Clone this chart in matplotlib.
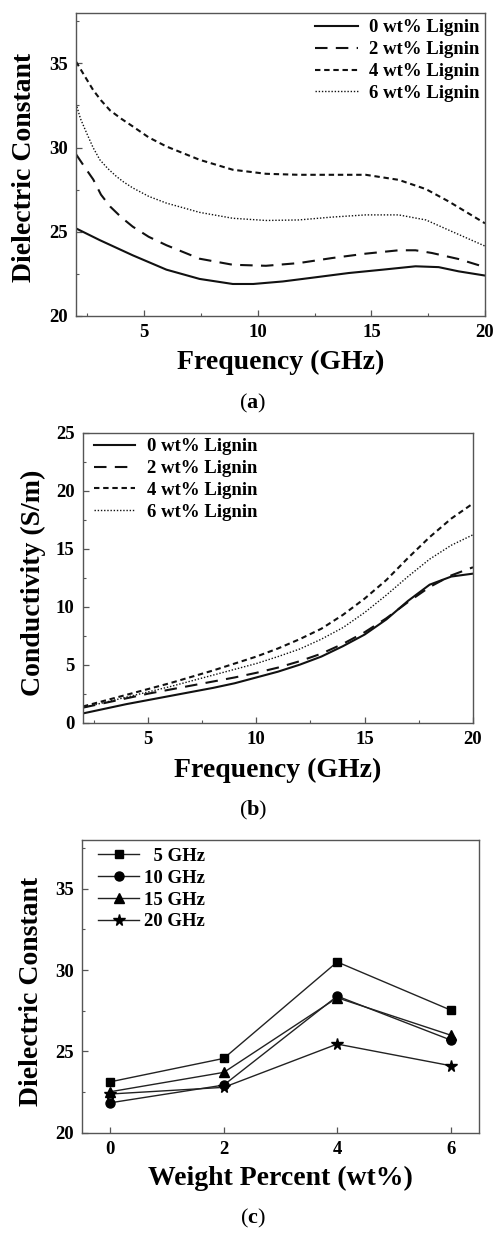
import matplotlib
matplotlib.use("Agg")
import matplotlib.pyplot as plt
from matplotlib.ticker import MultipleLocator

plt.rcParams['font.family'] = ['Liberation Serif', 'DejaVu Serif']
plt.rcParams['font.weight'] = 'bold'
plt.rcParams['mathtext.fontset'] = 'custom'
plt.rcParams['mathtext.rm'] = 'Liberation Serif'
plt.rcParams['mathtext.bf'] = 'Liberation Serif:bold'

# ---------------- data ----------------
labels_lignin = ["0 wt% Lignin", "2 wt% Lignin", "4 wt% Lignin", "6 wt% Lignin"]

# (a) dielectric constant vs frequency
freq_a0 = [2.0, 3.05, 4.5, 5.98, 7.44, 8.9, 9.8, 11.1, 12.56, 14.0, 15.5, 16.94, 17.96, 18.84, 20.0]
diel_a0 = [25.2, 24.5, 23.6, 22.75, 22.2, 21.9, 21.9, 22.05, 22.3, 22.55, 22.75, 22.95, 22.9, 22.65, 22.4]
freq_a2 = [2.0, 2.4, 2.76, 3.1, 3.5, 4.0, 4.5, 5.2, 5.98, 7.44, 8.9, 10.36, 11.8, 13.27, 14.75, 16.2, 16.94, 17.66, 18.84, 20.0]
diel_a2 = [29.6, 28.8, 28.1, 27.2, 26.5, 25.85, 25.3, 24.7, 24.2, 23.4, 23.04, 22.98, 23.14, 23.44, 23.7, 23.9, 23.9, 23.74, 23.38, 22.9]
freq_a4 = [2.0, 2.4, 2.76, 3.1, 3.5, 4.0, 4.5, 5.2, 5.98, 7.44, 8.9, 10.36, 11.8, 13.27, 14.75, 16.2, 17.4, 18.4, 20.0]
diel_a4 = [35.1, 34.2, 33.4, 32.8, 32.2, 31.7, 31.25, 30.6, 30.06, 29.27, 28.68, 28.44, 28.38, 28.38, 28.38, 28.08, 27.53, 26.8, 25.5]
freq_a6 = [2.0, 2.2, 2.47, 2.75, 3.05, 3.4, 3.78, 4.1, 4.5, 5.2, 5.98, 7.44, 8.9, 10.36, 11.8, 13.27, 14.75, 16.2, 17.4, 18.4, 20.0]
diel_a6 = [32.6, 31.7, 30.85, 30.0, 29.27, 28.75, 28.28, 27.95, 27.6, 27.1, 26.7, 26.15, 25.8, 25.67, 25.7, 25.87, 26.0, 26.0, 25.7, 25.1, 24.15]

# (b) conductivity vs frequency
freq_b = [2, 3, 4, 5, 6, 7, 8, 9, 10, 11, 12, 13, 14, 15, 16, 17, 18, 19, 20]
cond_b0 = [0.8, 1.2, 1.6, 1.95, 2.3, 2.65, 3.0, 3.4, 3.9, 4.4, 5.0, 5.7, 6.6, 7.6, 8.9, 10.5, 11.9, 12.6, 12.85]
cond_b2 = [1.3, 1.7, 2.1, 2.5, 2.85, 3.2, 3.55, 3.9, 4.3, 4.75, 5.3, 5.95, 6.8, 7.8, 9.0, 10.4, 11.7, 12.7, 13.4]
cond_b4 = [1.4, 1.9, 2.4, 2.9, 3.4, 3.95, 4.5, 5.1, 5.7, 6.4, 7.2, 8.1, 9.3, 10.7, 12.3, 14.2, 16.0, 17.6, 18.9]
cond_b6 = [1.3, 1.75, 2.2, 2.65, 3.1, 3.6, 4.1, 4.6, 5.1, 5.7, 6.35, 7.2, 8.2, 9.5, 11.0, 12.6, 14.1, 15.3, 16.2]

# (c) dielectric constant vs weight percent
wt = [0, 2, 4, 6]
labels_freq = ["  5 GHz", "10 GHz", "15 GHz", "20 GHz"]
diel_5 = [23.13, 24.57, 30.5, 27.54]
diel_10 = [21.84, 22.93, 28.4, 25.7]
diel_15 = [22.52, 23.71, 28.3, 26.0]
diel_20 = [22.38, 22.79, 25.45, 24.12]

# ---------------- figure ----------------
W, H = 495, 1236
fig = plt.figure(figsize=(W / 100, H / 100), dpi=100)


def px_axes(l, t, r, b):
    return fig.add_axes([l / W, 1 - b / H, (r - l) / W, (b - t) / H])


spine_col = '#555555'
tick_fs = 13.5
lab_fs = 20
leg_fs = 13.5


def style(ax):
    for s in ax.spines.values():
        s.set_color(spine_col)
        s.set_linewidth(1.0)
    ax.tick_params(which='both', direction='in', colors=spine_col, labelcolor='black',
                   labelsize=tick_fs, top=False, right=False)
    ax.tick_params(which='major', length=4, width=0.9, pad=6)
    ax.tick_params(which='minor', length=2.5, width=0.8)
    for t in ax.get_xticklabels() + ax.get_yticklabels():
        t.set_fontweight('bold')


styles = [
    dict(linestyle='-', lw=1.5),
    dict(linestyle=(0, (6, 4)), lw=1.5),
    dict(linestyle=(0, (2.6, 1.8)), lw=1.5),
    dict(linestyle=(0, (1, 1.3)), lw=1.0),
]

leg_kw = dict(frameon=False, labelspacing=0.25, borderpad=0, borderaxespad=0,
              prop={'weight': 'bold', 'size': leg_fs})

# ----- (a) -----
ax1 = px_axes(76, 12.7, 485, 316)
for (x, y), st, lab in zip([(freq_a0, diel_a0), (freq_a2, diel_a2), (freq_a4, diel_a4), (freq_a6, diel_a6)],
                           styles, labels_lignin):
    ax1.plot(x, y, color='#111111', label=lab, **st)
ax1.set_xlim(2, 20)
ax1.set_ylim(20, 38)
ax1.xaxis.set_major_locator(MultipleLocator(5))
ax1.xaxis.set_minor_locator(MultipleLocator(2.5))
ax1.yaxis.set_major_locator(MultipleLocator(5))
ax1.yaxis.set_minor_locator(MultipleLocator(2.5))
style(ax1)
ax1.set_xlabel("Frequency (GHz)", fontsize=lab_fs, fontweight='bold')
ax1.set_ylabel("Dielectric Constant", fontsize=lab_fs, fontweight='bold')
ax1.xaxis.set_label_coords(0.5, -0.152)
ax1.yaxis.set_label_coords(-0.125, 0.49)
ax1.xaxis.label.set_va('center')
ax1.yaxis.label.set_va('center')
ax1.legend(loc='upper left', bbox_to_anchor=(0.584, 0.978),
           handlelength=2.3, handletextpad=0.6, **leg_kw)
fig.text(253 / W, 1 - 403 / H, r"($\mathbf{a}$)", fontsize=16, fontweight='normal', ha='center', va='center')

# ----- (b) -----
ax2 = px_axes(83, 432.7, 473, 722.7)
for y, st, lab in zip([cond_b0, cond_b2, cond_b4, cond_b6], styles, labels_lignin):
    ax2.plot(freq_b, y, color='#111111', label=lab, **st)
ax2.set_xlim(2, 20)
ax2.set_ylim(0, 25)
ax2.xaxis.set_major_locator(MultipleLocator(5))
ax2.xaxis.set_minor_locator(MultipleLocator(2.5))
ax2.yaxis.set_major_locator(MultipleLocator(5))
ax2.yaxis.set_minor_locator(MultipleLocator(2.5))
style(ax2)
ax2.set_xlabel("Frequency (GHz)", fontsize=lab_fs, fontweight='bold')
ax2.set_ylabel("Conductivity (S/m)", fontsize=lab_fs, fontweight='bold')
ax2.xaxis.set_label_coords(0.5, -0.163)
ax2.yaxis.set_label_coords(-0.128, 0.482)
ax2.xaxis.label.set_va('center')
ax2.yaxis.label.set_va('center')
ax2.legend(loc='upper left', bbox_to_anchor=(0.028, 0.981),
           handlelength=2.2, handletextpad=0.65, **leg_kw)
fig.text(253 / W, 1 - 810 / H, r"($\mathbf{b}$)", fontsize=16, fontweight='normal', ha='center', va='center')

# ----- (c) -----
ax3 = px_axes(82, 840, 479, 1132.7)
markers = [('s', 6), ('o', 6.5), ('^', 7), ('*', 8.5)]
for y, (m, ms), lab in zip([diel_5, diel_10, diel_15, diel_20], markers, labels_freq):
    ax3.plot(wt, y, color='#222222', lw=1.0, marker=m, markersize=ms,
             markerfacecolor='black', markeredgecolor='black', label=lab)
ax3.set_xlim(-0.5, 6.5)
ax3.set_ylim(20, 38)
ax3.set_xticks(wt)
ax3.yaxis.set_major_locator(MultipleLocator(5))
ax3.yaxis.set_minor_locator(MultipleLocator(2.5))
style(ax3)
ax3.set_xlabel("Weight Percent (wt%)", fontsize=lab_fs, fontweight='bold')
ax3.set_ylabel("Dielectric Constant", fontsize=lab_fs, fontweight='bold')
ax3.xaxis.set_label_coords(0.499, -0.155)
ax3.yaxis.set_label_coords(-0.127, 0.482)
ax3.xaxis.label.set_va('center')
ax3.yaxis.label.set_va('center')
ax3.legend(loc='upper left', bbox_to_anchor=(0.04, 0.973),
           handlelength=2.2, handletextpad=0.25, **leg_kw)
fig.text(253 / W, 1 - 1218 / H, r"($\mathbf{c}$)", fontsize=16, fontweight='normal', ha='center', va='center')

fig.savefig("out.png", dpi=100)
